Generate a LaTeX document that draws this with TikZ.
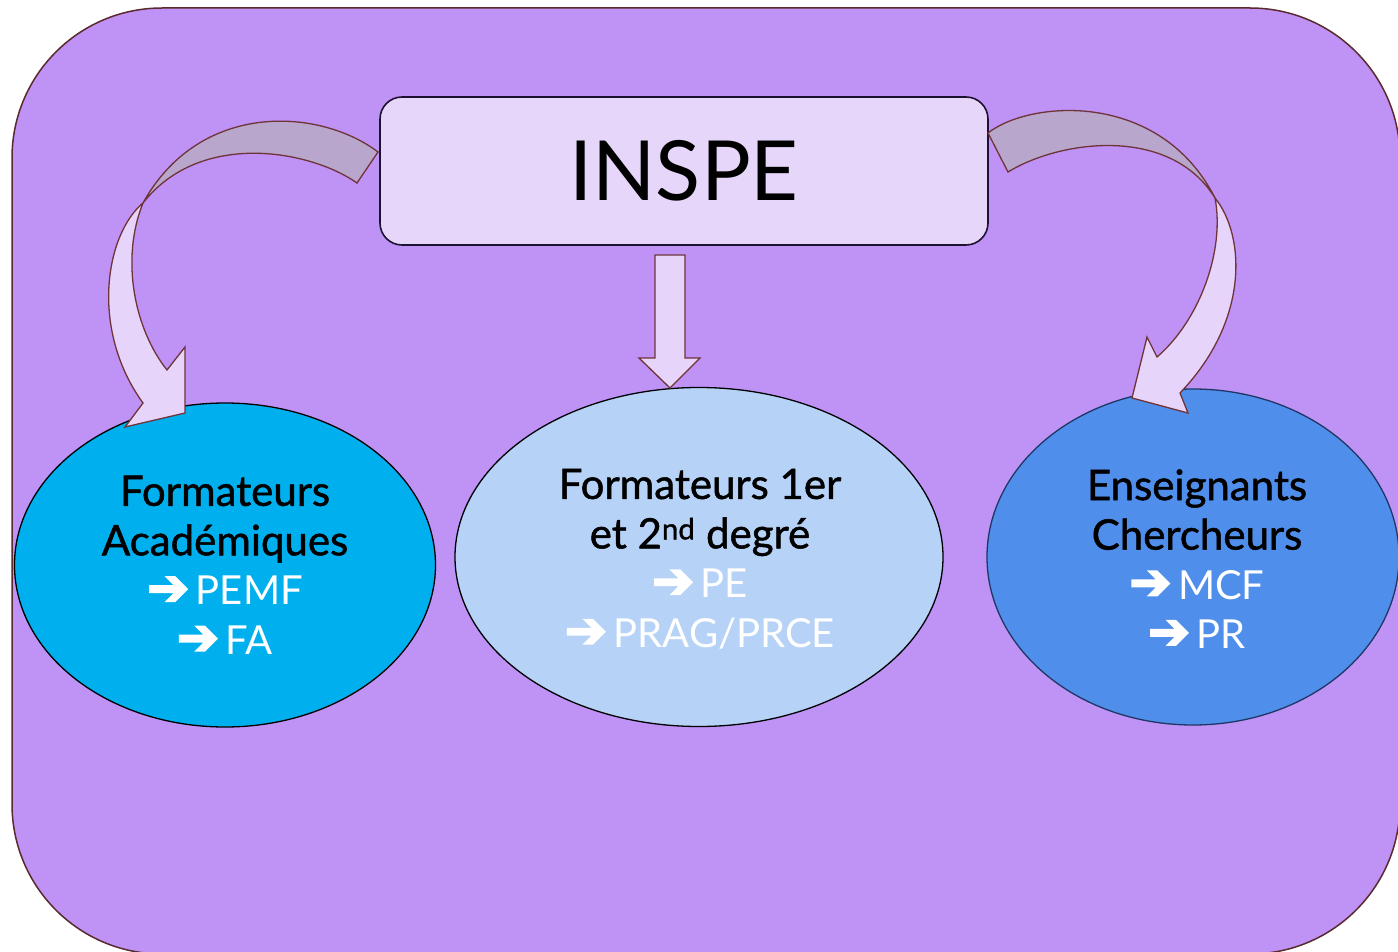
\documentclass[tikz,border=0pt]{standalone}
\usepackage{fontspec}
\setmainfont{Lato}
\newfontfamily\medfont{Lato}[FakeBold=1.2]
\newfontfamily\symfont{DejaVu Sans}[FakeBold=4]
\usetikzlibrary{shapes.geometric}
\definecolor{bgpurple}{HTML}{BF92F6}
\definecolor{framebrown}{HTML}{5A2A2E}
\definecolor{boxfill}{HTML}{E6D6FA}
\definecolor{boxline}{HTML}{1C1230}
\definecolor{arrowfill}{HTML}{E6D4FA}
\definecolor{arrowback}{HTML}{B8A6CC}
\definecolor{arrowline}{HTML}{6E3438}
\definecolor{ellA}{HTML}{00B0EE}
\definecolor{ellB}{HTML}{B7D2F7}
\definecolor{ellC}{HTML}{4F8EEB}
\definecolor{ellCline}{HTML}{1E3765}
\tikzset{
  inspebox/.style={draw=boxline, fill=boxfill, line width=1.6pt, rounded corners=22pt, inner sep=0pt},
  ellnode/.style={ellipse, draw=black, line width=1.3pt, inner sep=0pt},
  lbl/.style={align=center, inner sep=0pt, font=\fontsize{42}{49.5}\selectfont},
  arrowfront/.style={fill=arrowfill, draw=arrowline, line width=1.3pt, line join=miter},
  arrowrear/.style={fill=arrowback, draw=arrowline, line width=1.3pt, line join=miter}
}
\newcommand{\bline}[1]{{\medfont #1}}
\newcommand{\wline}[1]{{\color{white}\fontsize{40}{49.5}\selectfont{\fontsize{50}{49.5}\selectfont\symfont ➔}\,#1}}
\begin{document}
\begin{tikzpicture}[x=1pt,y=-1pt]
\useasboundingbox (0,0) rectangle (1398,952);
\clip (0,0) rectangle (1398,952);
% background frame
\draw[draw=framebrown, fill=bgpurple, line width=1.5pt, rounded corners=150pt] (12,8) rectangle (1400,954);

% INSPE box
\node[inspebox, minimum width=608pt, minimum height=148pt, font=\fontsize{83}{90}\selectfont] (inspe) at (684,171) {INSPE};

% ellipses
\node[ellnode, fill=ellA, minimum width=421pt, minimum height=324pt] (ella) at (225,565) {};
\node[ellnode, fill=ellB, minimum width=488pt, minimum height=339pt] (ellb) at (699,557) {};
\node[ellnode, fill=ellC, draw=ellCline, minimum width=412pt, minimum height=336pt] (ellc) at (1193,557) {};

% labels
\node[lbl] (ta) at (225,565) {\bline{Formateurs}\\\bline{Académiques}\\\wline{PEMF}\\\wline{FA}};
\node[lbl] (tb) at (700,559) {\bline{Formateurs 1er}\\\bline{et 2\textsuperscript{nd} degré}\\\wline{PE}\\\wline{PRAG/PRCE}};
\node[lbl] (tc) at (1197,559) {\bline{Enseignants}\\\bline{Chercheurs}\\\wline{MCF}\\\wline{PR}};

% central straight arrow
\draw[arrowfront] (655,255) -- (685,255) -- (685,358) -- (700,358) -- (670,388) -- (639,358) -- (655,358) -- cycle;

% left curved arrow
\draw[arrowrear] (378,152) .. controls (320,108) and (200,100) .. (143,203)
  .. controls (200,130) and (310,150) .. (357,183) -- cycle;
\draw[arrowfront] (143,203) .. controls (105,235) and (90,330) .. (143,403)
  -- (125,427) -- (185,413) -- (185,347) -- (167,370)
  .. controls (135,330) and (120,260) .. (143,203) -- cycle;

% right curved arrow
\draw[arrowrear] (988,133) .. controls (1030,100) and (1160,90) .. (1215,198)
  .. controls (1170,125) and (1060,140) .. (1008,172) -- cycle;
\draw[arrowfront] (1215,198) .. controls (1245,235) and (1250,320) .. (1180,393)
  -- (1188,413) -- (1132,398) -- (1147,337) -- (1157,357)
  .. controls (1200,320) and (1225,250) .. (1215,198) -- cycle;
\end{tikzpicture}
\end{document}
